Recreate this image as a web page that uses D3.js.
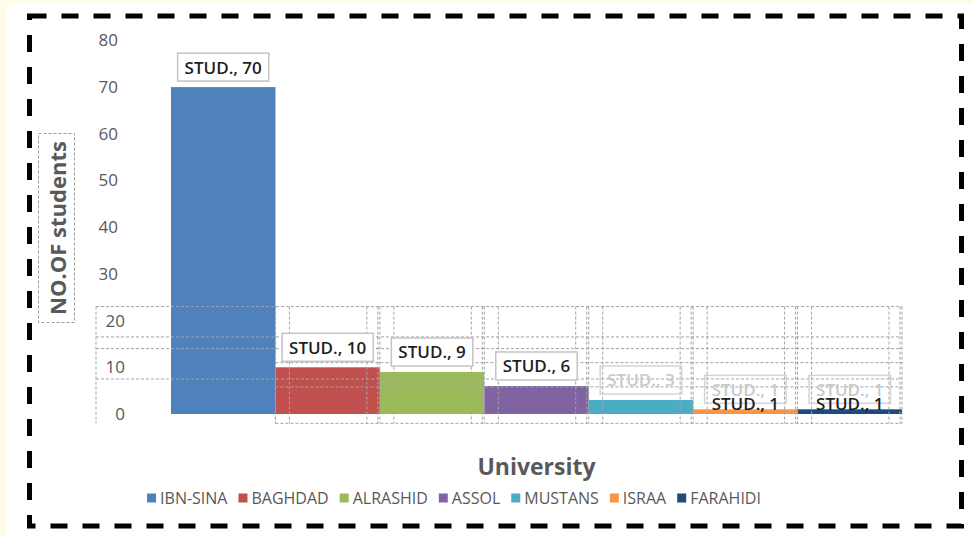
<!DOCTYPE html>
<html>
<head>
<meta charset="utf-8">
<script src="https://cdn.jsdelivr.net/npm/d3@7"></script>
<style>
  html, body { margin: 0; padding: 0; background: #fefbe9; }
  svg { display: block; }
  text { font-family: "Open Sans", "Liberation Sans", sans-serif; }
</style>
</head>
<body>
<svg id="chart" width="972" height="535"></svg>
<script>
// ---- data ----
const categories = ["IBN-SINA", "BAGHDAD", "ALRASHID", "ASSOL", "MUSTANS", "ISRAA", "FARAHIDI"];
const students   = [70, 10, 9, 6, 3, 1, 1];
const labelPrefix = "STUD.";
const yTicks = [0, 10, 20, 30, 40, 50, 60, 70, 80];
const colors = ["#4f81bd", "#c0504d", "#9bbb59", "#8064a2", "#4bacc6", "#f79646", "#1f497d"];
const xTitle = "University";
const yTitle = "NO.OF students";

// ---- layout ----
const W = 972, H = 535;
const svg = d3.select("#chart");

svg.append("rect").attr("x", 7).attr("y", 4).attr("width", W - 7).attr("height", H - 4).attr("fill", "#ffffff");

// outer dashed frame
svg.append("rect")
  .attr("x", 29.5).attr("y", 16).attr("width", 932).attr("height", 510)
  .attr("fill", "none").attr("stroke", "#000").attr("stroke-width", 5)
  .attr("stroke-dasharray", "17,15");

const x = d3.scaleBand().domain(categories).range([171, 902]).padding(0);
const y = d3.scaleLinear().domain([0, 80]).range([414, 40.4]);

// y axis
const yAxis = d3.axisLeft(y).tickValues(yTicks).tickSize(0).tickPadding(3);
const gy = svg.append("g").attr("transform", "translate(121,0)").call(yAxis);
gy.select(".domain").remove();
gy.selectAll("text")
  .attr("fill", "#595959").attr("font-size", 17)
  .attr("dx", d => d <= 20 ? 7 : 0);

// bars
const data = categories.map((c, i) => ({ cat: c, v: students[i], color: colors[i], i }));
svg.append("g").selectAll("rect").data(data).join("rect")
  .attr("x", d => x(d.cat))
  .attr("y", d => y(d.v))
  .attr("width", x.bandwidth())
  .attr("height", d => y(0) - y(d.v))
  .attr("fill", d => d.color);

// dashed selection overlay (decorative, derived from scales)
const guide = svg.append("g").attr("fill", "none").attr("stroke", "#a3a3a3")
  .attr("stroke-width", 1).attr("stroke-dasharray", "3,2");
const gTop = y(23), gBot = y(-2);
const left0 = 96, right0 = x.range()[1];
const secondStart = x(categories[1]);
[[23, left0], [16.5, left0], [14, left0], [11, secondStart], [7.5, left0], [5.8, secondStart], [-2, secondStart]]
  .forEach(([v, x0]) => guide.append("line").attr("x1", x0).attr("x2", right0).attr("y1", y(v)).attr("y2", y(v)));
const vx = [left0, secondStart, right0];
categories.slice(1).forEach(c => {
  const a = x(c), b = a + x.bandwidth();
  vx.push(a, a + 14, b - 13, b - 2);
});
vx.forEach(xx => guide.append("line").attr("x1", xx).attr("x2", xx).attr("y1", gTop).attr("y2", gBot));

// data labels
function addLabel(g, cx, cy, txt, faded) {
  const t = g.append("text").attr("x", cx).attr("y", cy)
    .attr("text-anchor", "middle").attr("dominant-baseline", "central")
    .attr("font-size", 17).attr("font-weight", 600)
    .attr("fill", faded ? "#c9c9c9" : "#1e1e1e").text(txt);
  return t;
}
const lg = svg.append("g");
data.forEach(d => {
  const cx = x(d.cat) + x.bandwidth() / 2;
  const cy = y(d.v) - 20;
  const txt = `${labelPrefix}, ${d.v}`;
  const faded = d.v <= 3;
  const box = lg.append("rect");
  const t = addLabel(lg, cx, cy, txt, faded);
  const w = t.node().getComputedTextLength();
  box.attr("x", cx - w / 2 - 7).attr("y", cy - 14).attr("width", w + 14).attr("height", 28)
    .attr("fill", faded ? "none" : "#fff").attr("stroke", faded ? "#d4d4d4" : "#c4c4c4").attr("stroke-width", 1.5);
  if (d.v === 1) addLabel(lg, cx, cy + 14, txt, false);
});

// y title with dashed box
svg.append("rect").attr("x", 38.5).attr("y", 133.5).attr("width", 36).attr("height", 189)
  .attr("fill", "none").attr("stroke", "#9a9a9a").attr("stroke-dasharray", "3,2");
svg.append("text")
  .attr("transform", "translate(57,228) rotate(-90)")
  .attr("text-anchor", "middle").attr("dominant-baseline", "central")
  .attr("font-size", 22).attr("font-weight", 700).attr("fill", "#595959")
  .text(yTitle);

// x title
svg.append("text")
  .attr("x", (x.range()[0] + x.range()[1]) / 2).attr("y", 466)
  .attr("text-anchor", "middle").attr("dominant-baseline", "central")
  .attr("font-size", 23).attr("font-weight", 700).attr("fill", "#595959")
  .text(xTitle);

// legend
const leg = svg.append("g");
let cursor = 0;
data.forEach(d => {
  const item = leg.append("g").attr("transform", `translate(${cursor},0)`);
  item.append("rect").attr("x", 0).attr("y", -4.5).attr("width", 9).attr("height", 9).attr("fill", d.color);
  const t = item.append("text").attr("x", 13).attr("y", 0).attr("dominant-baseline", "central")
    .attr("font-size", 16).attr("fill", "#595959").text(d.cat);
  cursor += 13 + t.node().getComputedTextLength() + 11;
});
const legW = cursor - 11;
leg.attr("transform", `translate(${454 - legW / 2},498)`);
</script>
</body>
</html>
